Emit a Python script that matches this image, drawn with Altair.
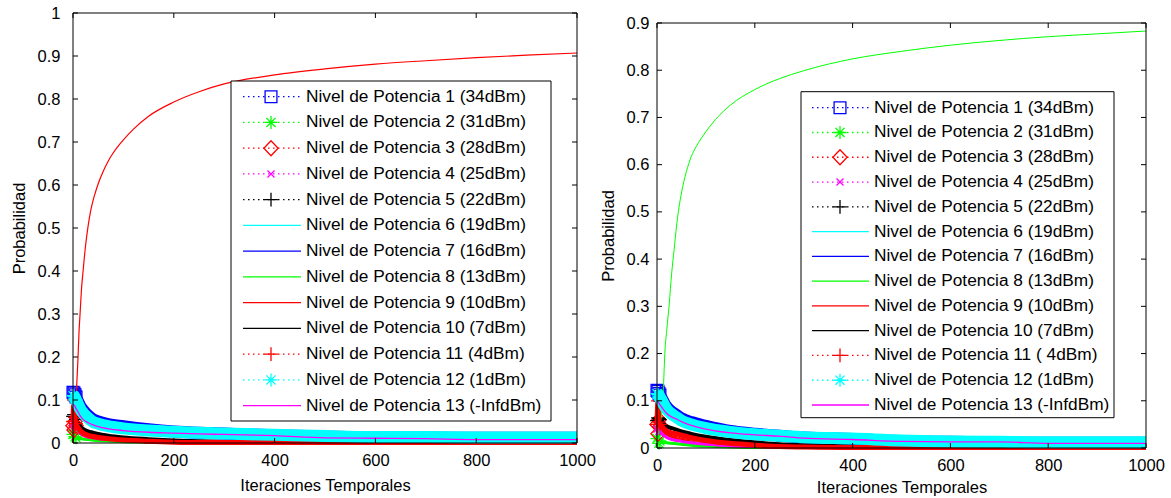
import altair as alt
import pandas as pd

FONT = "Liberation Sans"

# iteration samples (x) for the decaying series
T = [0, 2, 4, 6, 10, 15, 20, 30, 40, 50, 70, 100, 150, 200, 250, 300, 400, 500, 600, 700, 800, 900, 1000]
# denser iteration samples for the rising series
T_RISE_L = [0, 4, 6, 8, 10, 12, 14, 17, 20, 25, 30, 35, 40, 45, 50, 60, 70, 80, 90, 100, 120, 150, 200,
            250, 300, 400, 500, 600, 700, 800, 900, 1000]
T_RISE_R = [0, 5, 8, 10, 12, 14, 16, 20, 25, 30, 35, 40, 45, 50, 60, 70, 80, 90, 100, 120, 150, 200,
            250, 300, 400, 500, 600, 700, 800, 900, 1000]

# ---- left panel series (probability) ----
L01 = [0.118, 0.116, 0.112, 0.107, 0.097, 0.085, 0.077, 0.064, 0.055, 0.05, 0.044, 0.039, 0.032, 0.027, 0.024, 0.022, 0.018, 0.015, 0.013, 0.013, 0.012, 0.012, 0.012]
L02 = [0.02, 0.03, 0.015, 0.012, 0.011, 0.01, 0.009, 0.008, 0.007, 0.006, 0.005, 0.003, 0.002, 0.001, 0.001, 0.001, 0.001, 0.001, 0.001, 0.001, 0.001, 0.001, 0.001]
L03 = [0.04, 0.03, 0.05, 0.04, 0.03, 0.022, 0.018, 0.014, 0.012, 0.01, 0.008, 0.005, 0.003, 0.002, 0.002, 0.002, 0.001, 0.001, 0.001, 0.001, 0.001, 0.001, 0.001]
L04 = [0.05, 0.045, 0.04, 0.036, 0.03, 0.022, 0.018, 0.014, 0.012, 0.01, 0.008, 0.005, 0.003, 0.002, 0.002, 0.002, 0.001, 0.001, 0.001, 0.001, 0.001, 0.001, 0.001]
L05 = [0.062, 0.066, 0.06, 0.055, 0.047, 0.038, 0.033, 0.027, 0.024, 0.021, 0.017, 0.013, 0.009, 0.006, 0.004, 0.003, 0.002, 0.002, 0.001, 0.001, 0.001, 0.001, 0.001]
L06 = [0.105, 0.103, 0.1, 0.096, 0.087, 0.075, 0.067, 0.055, 0.047, 0.043, 0.037, 0.032, 0.027, 0.024, 0.022, 0.02, 0.017, 0.015, 0.013, 0.013, 0.012, 0.012, 0.012]
L07 = [0.1, 0.099, 0.096, 0.092, 0.084, 0.073, 0.065, 0.054, 0.046, 0.042, 0.036, 0.031, 0.026, 0.023, 0.021, 0.019, 0.016, 0.014, 0.012, 0.012, 0.011, 0.011, 0.011]
L08 = [0.03, 0.025, 0.02, 0.017, 0.013, 0.01, 0.008, 0.006, 0.005, 0.004, 0.003, 0.002, 0.001, 0.001, 0.001, 0.0, 0.0, 0.0, 0.0, 0.0, 0.0, 0.0, 0.0]
L09 = [0.0, 0.05, 0.1, 0.15, 0.2, 0.26, 0.3, 0.36, 0.4, 0.46, 0.505, 0.54, 0.565, 0.585, 0.603, 0.632, 0.656, 0.675,
       0.691, 0.705, 0.73, 0.76, 0.793, 0.817, 0.835, 0.856, 0.87, 0.881, 0.889, 0.896, 0.902, 0.907]
L10 = [0.065, 0.068, 0.062, 0.055, 0.045, 0.036, 0.031, 0.025, 0.022, 0.019, 0.015, 0.011, 0.007, 0.005, 0.003, 0.002, 0.001, 0.001, 0.0, 0.0, 0.0, 0.0, 0.0]
L11 = [0.05, 0.1, 0.06, 0.045, 0.036, 0.028, 0.023, 0.018, 0.015, 0.013, 0.01, 0.007, 0.004, 0.002, 0.001, 0.001, 0.001, 0.001, 0.001, 0.001, 0.001, 0.001, 0.001]
L12 = [0.11, 0.108, 0.104, 0.1, 0.09, 0.078, 0.07, 0.058, 0.049, 0.045, 0.039, 0.034, 0.029, 0.026, 0.024, 0.022, 0.019, 0.016, 0.014, 0.014, 0.013, 0.013, 0.013]
L13 = [0.09, 0.088, 0.085, 0.08, 0.072, 0.062, 0.055, 0.047, 0.042, 0.038, 0.033, 0.029, 0.025, 0.023, 0.021, 0.02, 0.017, 0.012, 0.011, 0.01, 0.008, 0.008, 0.008]

# ---- right panel series ----
R01 = [0.122, 0.12, 0.116, 0.112, 0.105, 0.095, 0.087, 0.077, 0.07, 0.063, 0.055, 0.047, 0.036, 0.03, 0.026, 0.022, 0.019, 0.015, 0.013, 0.012, 0.011, 0.011, 0.011]
R02 = [0.02, 0.05, 0.01, 0.015, 0.013, 0.012, 0.011, 0.01, 0.009, 0.008, 0.006, 0.004, 0.002, 0.001, 0.001, 0.001, 0.001, 0.001, 0.001, 0.001, 0.001, 0.001, 0.001]
R03 = [0.05, 0.03, 0.06, 0.045, 0.04, 0.033, 0.029, 0.024, 0.02, 0.017, 0.013, 0.009, 0.005, 0.003, 0.002, 0.002, 0.001, 0.001, 0.001, 0.001, 0.001, 0.001, 0.001]
R04 = [0.04, 0.045, 0.035, 0.033, 0.03, 0.026, 0.022, 0.018, 0.016, 0.014, 0.011, 0.008, 0.005, 0.003, 0.002, 0.002, 0.001, 0.001, 0.001, 0.001, 0.001, 0.001, 0.001]
R05 = [0.058, 0.064, 0.062, 0.06, 0.056, 0.05, 0.046, 0.042, 0.039, 0.035, 0.03, 0.024, 0.017, 0.012, 0.008, 0.006, 0.003, 0.001, 0.001, 0.001, 0.001, 0.001, 0.001]
R06 = [0.111, 0.109, 0.106, 0.103, 0.096, 0.086, 0.078, 0.068, 0.061, 0.054, 0.046, 0.038, 0.03, 0.026, 0.023, 0.02, 0.017, 0.014, 0.012, 0.011, 0.011, 0.011, 0.011]
R07 = [0.107, 0.105, 0.102, 0.099, 0.092, 0.082, 0.074, 0.064, 0.057, 0.05, 0.042, 0.035, 0.027, 0.023, 0.02, 0.018, 0.015, 0.012, 0.011, 0.01, 0.01, 0.01, 0.01]
R08 = [0.02, 0.04, 0.06, 0.08, 0.1, 0.15, 0.2, 0.25, 0.305, 0.37, 0.42, 0.47, 0.51, 0.54, 0.585, 0.617, 0.638, 0.655,
       0.67, 0.696, 0.726, 0.759, 0.782, 0.799, 0.824, 0.84, 0.853, 0.863, 0.871, 0.877, 0.883]
R09 = [0.04, 0.045, 0.045, 0.042, 0.038, 0.033, 0.03, 0.026, 0.024, 0.021, 0.017, 0.012, 0.007, 0.004, 0.002, 0.001, 0.0, 0.0, 0.0, 0.0, 0.0, 0.0, 0.0]
R10 = [0.06, 0.066, 0.064, 0.06, 0.055, 0.048, 0.044, 0.04, 0.037, 0.033, 0.028, 0.022, 0.015, 0.01, 0.006, 0.004, 0.001, 0.0, 0.0, 0.0, 0.0, 0.0, 0.0]
R11 = [0.05, 0.1, 0.055, 0.05, 0.046, 0.04, 0.036, 0.032, 0.03, 0.027, 0.022, 0.016, 0.01, 0.006, 0.003, 0.002, 0.001, 0.001, 0.001, 0.001, 0.001, 0.001, 0.001]
R12 = [0.115, 0.113, 0.11, 0.107, 0.1, 0.09, 0.082, 0.072, 0.065, 0.058, 0.05, 0.042, 0.034, 0.029, 0.026, 0.023, 0.02, 0.016, 0.014, 0.013, 0.012, 0.012, 0.012]
R13 = [0.1, 0.098, 0.095, 0.092, 0.086, 0.079, 0.073, 0.066, 0.061, 0.056, 0.048, 0.04, 0.032, 0.028, 0.025, 0.021, 0.018, 0.014, 0.013, 0.013, 0.01, 0.01, 0.01]

LEFT_SERIES = [(T, L01), (T, L02), (T, L03), (T, L04), (T, L05), (T, L06), (T, L07), (T, L08),
               (T_RISE_L, L09), (T, L10), (T, L11), (T, L12), (T, L13)]
RIGHT_SERIES = [(T, R01), (T, R02), (T, R03), (T, R04), (T, R05), (T, R06), (T, R07),
                (T_RISE_R, R08), (T, R09), (T, R10), (T, R11), (T, R12), (T, R13)]

LEFT_LABELS = [
    "Nivel de Potencia 1 (34dBm)", "Nivel de Potencia 2 (31dBm)", "Nivel de Potencia 3 (28dBm)",
    "Nivel de Potencia 4 (25dBm)", "Nivel de Potencia 5 (22dBm)", "Nivel de Potencia 6 (19dBm)",
    "Nivel de Potencia 7 (16dBm)", "Nivel de Potencia 8 (13dBm)", "Nivel de Potencia 9 (10dBm)",
    "Nivel de Potencia 10 (7dBm)", "Nivel de Potencia 11 (4dBm)", "Nivel de Potencia 12 (1dBm)",
    "Nivel de Potencia 13 (-InfdBm)"]
RIGHT_LABELS = LEFT_LABELS[:10] + ["Nivel de Potencia 11 ( 4dBm)"] + LEFT_LABELS[11:]

X_TICKS = [0, 200, 400, 600, 800, 1000]
LEFT_Y_TICKS = [0, 0.1, 0.2, 0.3, 0.4, 0.5, 0.6, 0.7, 0.8, 0.9, 1]
RIGHT_Y_TICKS = [0, 0.1, 0.2, 0.3, 0.4, 0.5, 0.6, 0.7, 0.8, 0.9]

# ---- styles ----
COLORS = ["#0000FF", "#00FF00", "#FF0000", "#FF00FF", "#000000", "#00FFFF", "#0000FF",
          "#00FF00", "#FF0000", "#000000", "#FF0000", "#00FFFF", "#FF00FF"]
SQUARE = "square"
ASTER = "M-1,0L1,0M0,-1L0,1M-0.7,-0.7L0.7,0.7M-0.7,0.7L0.7,-0.7"
DIAM = "M0,-1L0.95,0L0,1L-0.95,0Z"
XMARK = "M-0.7,-0.7L0.7,0.7M-0.7,0.7L0.7,-0.7"
PLUS = "M-1,0L1,0M0,-1L0,1"
MARKERS = [SQUARE, ASTER, DIAM, XMARK, PLUS, None, None, None, None, None, PLUS, ASTER, None]
MSIZE = [140, 170, 225, 100, 190, 0, 0, 0, 0, 0, 190, 170, 0]
BAND = [12, 3, 3, 3, 4, 1, 1, 1, 1.2, 1.2, 5, 12, 1.3]


def panel(series, labels, W, H, yrange, ydom, yticks, top_px, bot_px, lab_pad, title_pad, leg):
    rows = []
    for i, (times, vals) in enumerate(series):
        for t, v in zip(times, vals):
            rows.append({"t": t, "v": v, "s": i + 1})
    df = pd.DataFrame(rows)

    xaxis = alt.Axis(values=X_TICKS, format="d", ticks=False, domain=False, grid=False,
                     labelFont=FONT, labelFontSize=16.5, labelColor="black", labelPadding=9,
                     labelFlush=False, labelOverlap=False,
                     title="Iteraciones Temporales", titleFont=FONT, titleFontSize=16.5,
                     titleFontWeight="normal", titleColor="black", titlePadding=leg["xtp"])
    yaxis = alt.Axis(values=yticks, format="~g", ticks=False, domain=False, grid=False,
                     labelFont=FONT, labelFontSize=16.5, labelColor="black", labelPadding=lab_pad,
                     labelFlush=False, labelOverlap=False,
                     title="Probabilidad", titleFont=FONT, titleFontSize=16.5,
                     titleFontWeight="normal", titleColor="black", titlePadding=title_pad)
    xs = alt.Scale(domain=[0, 1000], nice=False, zero=False)
    if yrange is None:
        ys = alt.Scale(domain=ydom, nice=False)
    else:
        ys = alt.Scale(domain=ydom, nice=False, range=yrange)
    X = alt.X("t:Q", scale=xs, axis=xaxis)
    Y = alt.Y("v:Q", scale=ys, axis=yaxis)

    base = alt.Chart(df)
    layers = []
    for i in range(13):
        s = i + 1
        d = base.transform_filter(alt.datum.s == s)
        if MARKERS[i] is not None:
            layers.append(d.mark_line(color=COLORS[i], strokeWidth=BAND[i], strokeCap="butt",
                                      strokeJoin="round", interpolate="monotone").encode(x=X, y=Y))
            layers.append(d.transform_filter(alt.datum.t <= 6).mark_point(
                shape=MARKERS[i], size=MSIZE[i], color=COLORS[i], filled=False,
                strokeWidth=1.3, opacity=1).encode(x=X, y=Y))
        else:
            layers.append(d.mark_line(color=COLORS[i], strokeWidth=BAND[i],
                                      interpolate="monotone").encode(x=X, y=Y))

    # box
    box_df = pd.DataFrame({"t": [0], "t2": [1000], "v": [ydom[0]], "v2": [ydom[1]]})
    layers.append(alt.Chart(box_df).mark_rect(fillOpacity=0, stroke="black", strokeWidth=1).encode(
        x=X, x2="t2:Q", y=Y, y2="v2:Q"))
    # inward ticks
    xt = alt.Chart(pd.DataFrame({"t": X_TICKS}))
    layers.append(xt.mark_rule(color="black", strokeWidth=1).encode(
        x=X, y=alt.value(top_px), y2=alt.value(top_px + 5)))
    layers.append(xt.mark_rule(color="black", strokeWidth=1).encode(
        x=X, y=alt.value(bot_px), y2=alt.value(bot_px - 5)))
    yt = alt.Chart(pd.DataFrame({"v": yticks}))
    layers.append(yt.mark_rule(color="black", strokeWidth=1).encode(
        y=Y, x=alt.value(0), x2=alt.value(5)))
    layers.append(yt.mark_rule(color="black", strokeWidth=1).encode(
        y=Y, x=alt.value(W), x2=alt.value(W - 5)))

    main = alt.layer(*layers)

    # legend
    ldf = pd.DataFrame({
        "row": list(range(13)),
        "label": labels,
        "color": COLORS,
        "dash": ["dot" if m is not None else "solid" for m in MARKERS],
    })
    mdf = pd.DataFrame({
        "row": [i for i in range(13) if MARKERS[i] is not None],
        "color": [COLORS[i] for i in range(13) if MARKERS[i] is not None],
        "shape": [MARKERS[i] for i in range(13) if MARKERS[i] is not None],
        "msize": [MSIZE[i] for i in range(13) if MARKERS[i] is not None],
    })
    LY = alt.Y("row:Q", scale=alt.Scale(domain=[0, 12], range=[leg["r0"], leg["r1"]]), axis=None)
    lbox = alt.Chart(pd.DataFrame({"a": [0]})).mark_rect(fill="white", stroke="black", strokeWidth=1).encode(
        x=alt.value(leg["bx0"]), x2=alt.value(leg["bx1"]), y=alt.value(leg["by0"]), y2=alt.value(leg["by1"]))
    llines = alt.Chart(ldf).mark_rule(strokeWidth=1.3).encode(
        x=alt.value(leg["lx0"]), x2=alt.value(leg["lx1"]), y=LY,
        color=alt.Color("color:N", scale=None),
        strokeDash=alt.StrokeDash("dash:N", scale=alt.Scale(domain=["dot", "solid"], range=[[1.5, 3.5], [1, 0]]),
                                  legend=None))
    lmarks = alt.Chart(mdf).mark_point(filled=False, strokeWidth=1.3, opacity=1).encode(
        x=alt.value(leg["mx"]), y=LY,
        color=alt.Color("color:N", scale=None),
        shape=alt.Shape("shape:N", scale=None),
        size=alt.Size("msize:Q", scale=None))
    ltext = alt.Chart(ldf).mark_text(align="left", baseline="middle", font=FONT, fontSize=17.3,
                                     color="black").encode(x=alt.value(leg["tx"]), y=LY, text="label:N")
    legend = alt.layer(lbox, llines, lmarks, ltext)

    return alt.layer(main, legend).resolve_scale(y="independent").properties(width=W, height=H)


left = panel(LEFT_SERIES, LEFT_LABELS, 504, 430, None, [0, 1], LEFT_Y_TICKS, 0, 430, 13, 10,
             dict(bx0=158, bx1=478, by0=68, by1=408, r0=83.7, r1=392.7, lx0=170, lx1=228, mx=198, tx=233, xtp=9))
right = panel(RIGHT_SERIES, RIGHT_LABELS, 489, 435, [435, 10], [0, 0.9], RIGHT_Y_TICKS, 10, 435, 8, 10,
              dict(bx0=144, bx1=457, by0=78.7, by1=404.7, r0=94.7, r1=392, lx0=155, lx1=212, mx=183, tx=217, xtp=6))

chart = alt.hconcat(left, right, spacing=4).properties(
    padding={"left": 11, "top": 5, "right": 0, "bottom": 0}, background="white"
).configure_view(stroke=None)

chart.save("out.html", embed_options={"renderer": "svg", "actions": False})
